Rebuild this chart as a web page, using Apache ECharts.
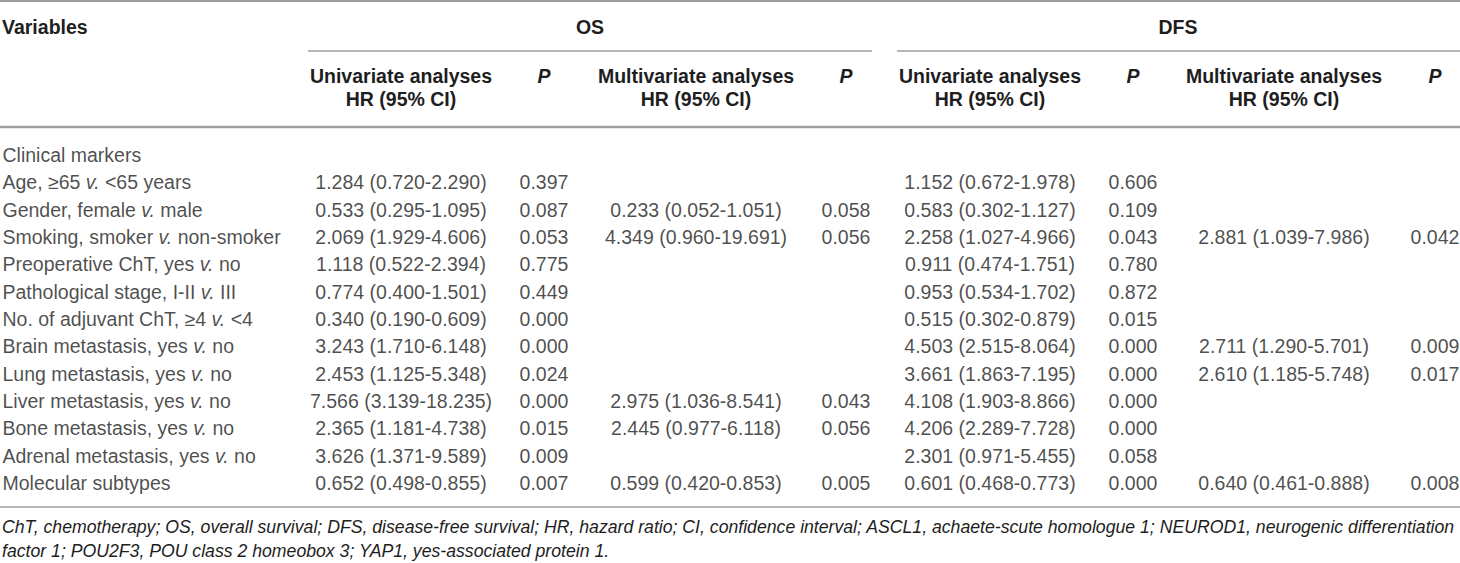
<!DOCTYPE html>
<html>
<head>
<meta charset="utf-8">
<script src="https://cdn.jsdelivr.net/npm/echarts@6/dist/echarts.min.js"></script>
<style>
  html, body { margin: 0; padding: 0; background: #fff; }
  #main { width: 1460px; height: 563px; }
</style>
</head>
<body>
<div id="main"></div>
<script>
// 表格数据
var rows = ['Clinical markers', 'Age, ≥65 v. <65 years', 'Gender, female v. male',
  'Smoking, smoker v. non-smoker', 'Preoperative ChT, yes v. no', 'Pathological stage, I-II v. III',
  'No. of adjuvant ChT, ≥4 v. <4', 'Brain metastasis, yes v. no', 'Lung metastasis, yes v. no',
  'Liver metastasis, yes v. no', 'Bone metastasis, yes v. no', 'Adrenal metastasis, yes v. no',
  'Molecular subtypes'];

var osUniHR = ['', '1.284 (0.720-2.290)', '0.533 (0.295-1.095)', '2.069 (1.929-4.606)', '1.118 (0.522-2.394)',
  '0.774 (0.400-1.501)', '0.340 (0.190-0.609)', '3.243 (1.710-6.148)', '2.453 (1.125-5.348)',
  '7.566 (3.139-18.235)', '2.365 (1.181-4.738)', '3.626 (1.371-9.589)', '0.652 (0.498-0.855)'];
var osUniP = ['', '0.397', '0.087', '0.053', '0.775', '0.449', '0.000', '0.000', '0.024', '0.000', '0.015', '0.009', '0.007'];
var osMultiHR = ['', '', '0.233 (0.052-1.051)', '4.349 (0.960-19.691)', '', '', '', '', '',
  '2.975 (1.036-8.541)', '2.445 (0.977-6.118)', '', '0.599 (0.420-0.853)'];
var osMultiP = ['', '', '0.058', '0.056', '', '', '', '', '', '0.043', '0.056', '', '0.005'];

var dfsUniHR = ['', '1.152 (0.672-1.978)', '0.583 (0.302-1.127)', '2.258 (1.027-4.966)', '0.911 (0.474-1.751)',
  '0.953 (0.534-1.702)', '0.515 (0.302-0.879)', '4.503 (2.515-8.064)', '3.661 (1.863-7.195)',
  '4.108 (1.903-8.866)', '4.206 (2.289-7.728)', '2.301 (0.971-5.455)', '0.601 (0.468-0.773)'];
var dfsUniP = ['', '0.606', '0.109', '0.043', '0.780', '0.872', '0.015', '0.000', '0.000', '0.000', '0.000', '0.058', '0.000'];
var dfsMultiHR = ['', '', '', '2.881 (1.039-7.986)', '', '', '', '2.711 (1.290-5.701)', '2.610 (1.185-5.748)',
  '', '', '', '0.640 (0.461-0.888)'];
var dfsMultiP = ['', '', '', '0.042', '', '', '', '0.009', '0.017', '', '', '', '0.008'];

var footnotes = [
  'ChT, chemotherapy; OS, overall survival; DFS, disease-free survival; HR, hazard ratio; CI, confidence interval; ASCL1, achaete-scute homologue 1; NEUROD1, neurogenic differentiation',
  'factor 1; POU2F3, POU class 2 homeobox 3; YAP1, yes-associated protein 1.'
];

// 列的位置 (x 轴 0~1460)
var colX = [401, 544, 696, 846, 990, 1133, 1284, 1435];
var colData = [osUniHR, osUniP, osMultiHR, osMultiP, dfsUniHR, dfsUniP, dfsMultiHR, dfsMultiP];

var FONT = '"Liberation Sans", Arial, Helvetica, sans-serif';
var SIZE = 19.5;
var TXT = '#1e1e1e';
var RULE = '#9e9e9e';

// 脚注字号: 让第一行正好占满宽度
var ctx = document.createElement('canvas').getContext('2d');
ctx.font = 'italic 20px ' + FONT;
var noteSize = Math.min(SIZE, 20 * 1454 / ctx.measureText(footnotes[0]).width);

var chart = echarts.init(document.getElementById('main'), null, { renderer: 'svg' });

// 每一列是一个 scatter, 只显示 label
var series = colData.map(function (col, c) {
  return {
    type: 'scatter',
    symbolSize: 1,
    silent: true,
    itemStyle: { color: 'rgba(0,0,0,0)' },
    label: {
      show: true,
      position: 'inside',
      color: TXT,
      fontFamily: FONT,
      fontSize: SIZE,
      formatter: function (p) { return p.value[2]; }
    },
    data: col.map(function (t, i) { return [colX[c], i, t]; })
  };
});

// 第一列: 变量名, "v." 用斜体
series.push({
  type: 'scatter',
  symbolSize: 1,
  silent: true,
  itemStyle: { color: 'rgba(0,0,0,0)' },
  label: {
    show: true,
    position: 'right',
    distance: 1,
    align: 'left',
    color: TXT,
    fontFamily: FONT,
    fontSize: SIZE,
    formatter: function (p) { return p.value[2].replace(' v. ', ' {i|v.} '); },
    rich: {
      i: { fontStyle: 'italic', fontFamily: FONT, fontSize: SIZE, color: TXT }
    }
  },
  data: rows.map(function (t, i) { return [1, i, t]; })
});

function hText(text, x, y, align, italic) {
  return {
    type: 'text',
    silent: true,
    style: {
      text: text, x: x, y: y,
      textAlign: align || 'center',
      textVerticalAlign: 'middle',
      fill: TXT,
      font: (italic ? 'italic ' : '') + 'bold ' + SIZE + 'px ' + FONT
    }
  };
}
function rule(x1, x2, y, w) {
  return {
    type: 'line',
    silent: true,
    shape: { x1: x1, y1: y, x2: x2, y2: y },
    style: { stroke: RULE, lineWidth: w }
  };
}

var graphics = [
  rule(0, 1460, 1, 2),
  rule(308, 872, 51, 1.5),
  rule(897, 1460, 51, 1.5),
  rule(0, 1460, 127, 2.5),
  rule(0, 1460, 507, 1.5),
  hText('Variables', 2, 27, 'left'),
  hText('OS', 590, 27),
  hText('DFS', 1178, 27)
];
[0, 2, 4, 6].forEach(function (c) {
  var name = (c % 4 === 0) ? 'Univariate analyses' : 'Multivariate analyses';
  graphics.push(hText(name, colX[c], 76));
  graphics.push(hText('HR (95% CI)', colX[c], 99));
  graphics.push(hText('P', colX[c + 1], 76, 'center', true));
});
footnotes.forEach(function (t, i) {
  graphics.push({
    type: 'text',
    silent: true,
    style: {
      text: t, x: 2, y: 527 + i * 24,
      textAlign: 'left', textVerticalAlign: 'middle',
      fill: TXT,
      font: 'italic ' + noteSize.toFixed(2) + 'px ' + FONT
    }
  });
});

chart.setOption({
  animation: false,
  grid: { left: 0, right: 0, top: 141.33, bottom: 66.33 },
  xAxis: { type: 'value', min: 0, max: 1460, show: false },
  yAxis: { type: 'category', data: rows, inverse: true, show: false },
  series: series,
  graphic: graphics
});
</script>
</body>
</html>
